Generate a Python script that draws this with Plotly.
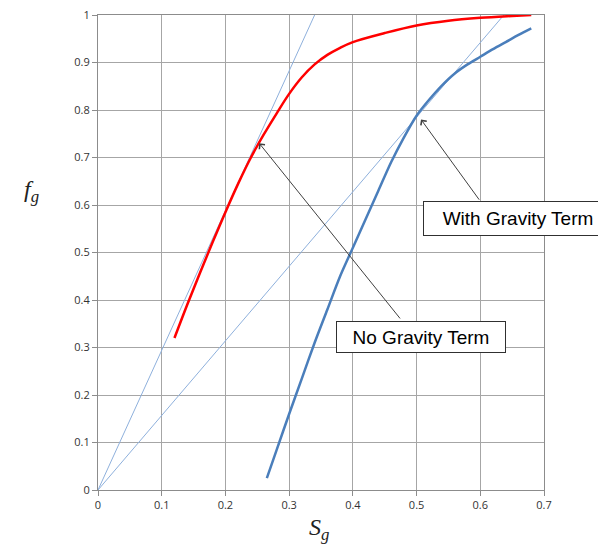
import plotly.graph_objects as go

# ---- data ----
no_grav_x = [0.12, 0.14, 0.16, 0.18, 0.20, 0.22, 0.24, 0.26, 0.28, 0.30, 0.32, 0.34, 0.36,
             0.38, 0.40, 0.45, 0.50, 0.55, 0.60, 0.65, 0.68]
no_grav_y = [0.32, 0.39, 0.457, 0.522, 0.585, 0.645, 0.70, 0.748, 0.792, 0.834, 0.869, 0.896, 0.916,
             0.931, 0.943, 0.962, 0.978, 0.988, 0.994, 0.998, 1.0]

grav_x = [0.265, 0.28, 0.30, 0.32, 0.34, 0.36, 0.38, 0.40, 0.42, 0.44, 0.46, 0.48, 0.50,
          0.52, 0.54, 0.56, 0.58, 0.60, 0.62, 0.64, 0.66, 0.68]
grav_y = [0.025, 0.083, 0.16, 0.235, 0.31, 0.38, 0.45, 0.51, 0.57, 0.63, 0.69, 0.742, 0.788,
          0.822, 0.852, 0.877, 0.896, 0.912, 0.928, 0.943, 0.958, 0.972]

tangent1_x = [0, 0.34]
tangent1_y = [0, 1]
tangent2_x = [0, 0.637]
tangent2_y = [0, 1]

x_ticks = [0, 0.1, 0.2, 0.3, 0.4, 0.5, 0.6, 0.7]
y_ticks = [0, 0.1, 0.2, 0.3, 0.4, 0.5, 0.6, 0.7, 0.8, 0.9, 1]

# annotation anchors (data coords)
ng_tip = (0.253, 0.73)
ng_tail = (0.476, 0.358)
ng_box = (0.507, 0.322)
wg_tip = (0.507, 0.78)
wg_tail = (0.600, 0.608)
wg_box = (0.659, 0.571)

fig = go.Figure()
thin = dict(color="#8eb0dc", width=1)
fig.add_trace(go.Scatter(x=tangent1_x, y=tangent1_y, mode="lines", line=thin, hoverinfo="skip"))
fig.add_trace(go.Scatter(x=tangent2_x, y=tangent2_y, mode="lines", line=thin, hoverinfo="skip"))
fig.add_trace(go.Scatter(x=no_grav_x, y=no_grav_y, mode="lines",
                         line=dict(color="#ff0000", width=2.5, shape="spline", smoothing=1.0)))
fig.add_trace(go.Scatter(x=grav_x, y=grav_y, mode="lines",
                         line=dict(color="#4a7ebb", width=2.5, shape="spline", smoothing=0.8)))

axis_common = dict(
    showgrid=True, gridcolor="#a6a6a6", gridwidth=1,
    showline=True, linecolor="#8c8c8c", linewidth=1, mirror=True,
    ticks="outside", ticklen=5, tickcolor="#8c8c8c",
    tickfont=dict(family="Open Sans, Liberation Sans", size=11, color="#333333"),
    ticklabeloverflow="allow",
    zeroline=False, fixedrange=True,
)
fig.update_xaxes(range=[0, 0.7], tickvals=x_ticks, **axis_common)
fig.update_yaxes(range=[0, 1], tickvals=y_ticks, **axis_common)

arrow = dict(showarrow=True, arrowhead=4, arrowsize=1.4, arrowwidth=1, arrowcolor="#404040",
             text="", xref="x", yref="y", axref="x", ayref="y", standoff=0, startstandoff=0)
fig.add_annotation(x=ng_tip[0], y=ng_tip[1], ax=ng_tail[0], ay=ng_tail[1], **arrow)
fig.add_annotation(x=wg_tip[0], y=wg_tip[1], ax=wg_tail[0], ay=wg_tail[1], **arrow)

box = dict(showarrow=False, xref="x", yref="y", bgcolor="white", bordercolor="#303030",
           borderwidth=1, font=dict(family="Liberation Sans", size=19, color="black"))
fig.add_annotation(x=ng_box[0], y=ng_box[1], text="No Gravity Term", width=166, height=28, **box)
fig.add_annotation(x=wg_box[0], y=wg_box[1], text="With Gravity Term", width=186, height=31, **box)

title_font = dict(family="Liberation Serif", size=24, color="#222222")
fig.add_annotation(x=-0.170, y=0.63, xref="paper", yref="paper", showarrow=False,
                   text="<i>f</i><sub><i>g</i></sub>", font=title_font)
fig.add_annotation(x=0.496, y=-0.118, xref="paper", yref="paper", showarrow=False,
                   text="<i>S</i><sub><i>g</i></sub>", font=title_font)

fig.update_layout(
    width=606, height=559,
    margin=dict(l=90, r=70, t=7, b=77, autoexpand=False),
    paper_bgcolor="white", plot_bgcolor="white",
    showlegend=False,
)

fig.write_html("out.html")
